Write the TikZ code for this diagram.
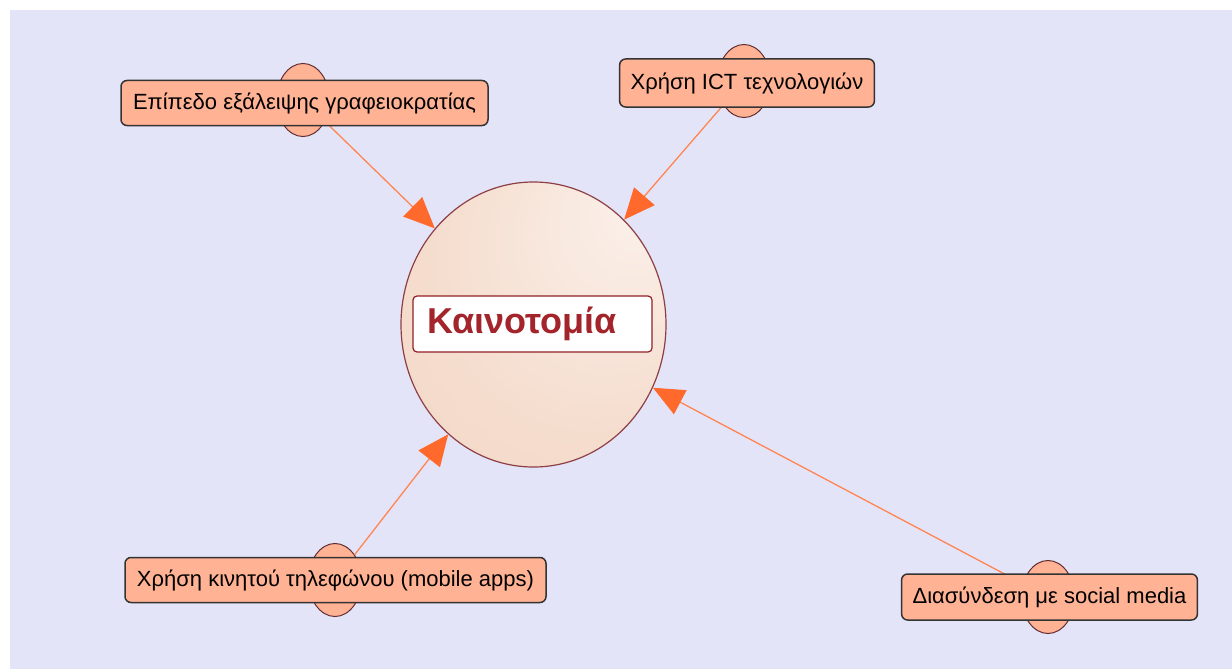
\documentclass[tikz,border=0pt]{standalone}
\usepackage{fontspec}
\setmainfont{Liberation Sans}
\usetikzlibrary{arrows.meta,shapes.geometric}
\definecolor{backdrop}{HTML}{E4E4F8}
\definecolor{salmon}{HTML}{FFB394}
\definecolor{linkline}{HTML}{FF8552}
\definecolor{linktip}{HTML}{FF6A2C}
\definecolor{hubedge}{HTML}{8E3F45}
\definecolor{hubtext}{HTML}{A3242A}
\definecolor{hublight}{HTML}{FBF1EB}
\definecolor{hubdark}{HTML}{F1D0BB}
\pgfdeclareradialshading{hubglow}{\pgfpoint{22bp}{22bp}}{color(0bp)=(hublight); color(30bp)=(hubdark!60!hublight); color(60bp)=(hubdark)}

\begin{document}
\begin{tikzpicture}[
		x=1pt, y=-1pt,
		arrow/.style={draw=linkline, line width=1.3pt, -{Triangle[length=31pt,width=27pt,color=linktip,fill=linktip]}},
		bubble/.style={ellipse, draw=hubedge!70!black, fill=salmon, line width=1pt, minimum width=53pt, minimum height=73pt, inner sep=0pt},
		topic/.style={draw=black!80, fill=salmon, rounded corners=6pt, line width=1.5pt, minimum height=45pt, inner xsep=11pt, font=\fontsize{22}{26}\selectfont},
		hub/.style={ellipse, draw=hubedge, line width=1.2pt, shading=hubglow, minimum width=265pt, minimum height=285pt, inner sep=0pt},
		title/.style={draw=hubtext!90!black, fill=white, rounded corners=4pt, line width=1.2pt, minimum width=239pt, minimum height=56pt, inner xsep=14pt, text width=211pt, align=left, text=hubtext, font=\fontsize{36}{40}\selectfont\bfseries},
	]
		\fill[white] (0,0) rectangle (1232,669);
		\fill[backdrop] (10,10) rectangle (1232,669);
		
		\node (hub) [hub] at (533.5,324.5) {};
		\node (b1) [bubble] at (303,100) {};
		\node (b2) [bubble] at (744,81) {};
		\node (b3) [bubble] at (335,580) {};
		\node (b4) [bubble] at (1048,597) {};
		
		\draw[arrow] (b1) -- (hub);
		\draw[arrow] (b2) -- (hub);
		\draw[arrow] (b3) -- (hub);
		\draw[arrow] (b4) -- (hub);
		
		\node (t1) [topic, minimum width=367pt] at (304.5,103) {Επίπεδο εξάλειψης γραφειοκρατίας};
		\node (t2) [topic, minimum width=250pt, minimum height=48pt] at (747,83) {Χρήση ICT τεχνολογιών};
		\node (t3) [topic, minimum width=421pt] at (335.5,580) {Χρήση κινητού τηλεφώνου (mobile apps)};
		\node (t4) [topic, minimum width=295pt, minimum height=46pt] at (1049.5,597) {Διασύνδεση με social media};
		\node (name) [title] at (532.5,324) {Καινοτομία};
	\end{tikzpicture}
\end{document}
